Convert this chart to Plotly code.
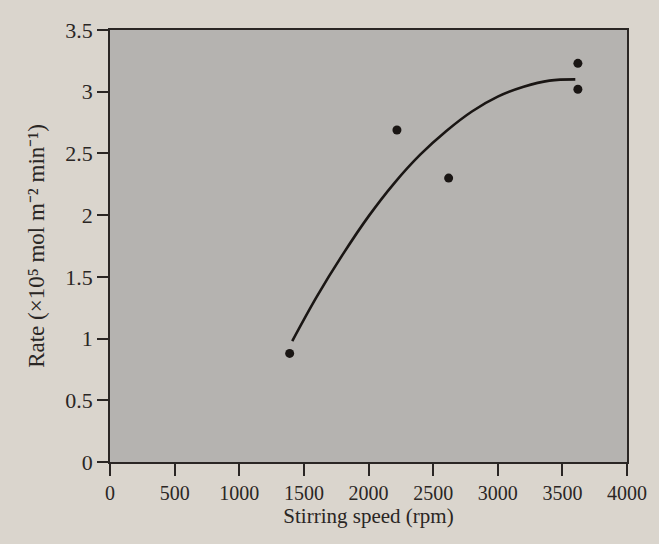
import plotly.graph_objects as go

# Measured data points
speed_rpm = [1390, 2220, 2620, 3620, 3620]
rate = [0.88, 2.69, 2.30, 3.23, 3.02]

# Fitted curve as drawn in the figure
curve_speed = [1410, 1600, 1800, 2000, 2200, 2400, 2600, 2800, 3000, 3200, 3400, 3600]
curve_rate = [0.98, 1.34, 1.68, 1.99, 2.26, 2.49, 2.68, 2.84, 2.96, 3.04, 3.09, 3.10]

x_ticks = [0, 500, 1000, 1500, 2000, 2500, 3000, 3500, 4000]
y_ticks = [0, 0.5, 1, 1.5, 2, 2.5, 3, 3.5]

font_family = "Liberation Serif, Times New Roman, serif"

fig = go.Figure()
fig.add_trace(go.Scatter(
    x=curve_speed, y=curve_rate, mode="lines",
    line=dict(color="#1a1614", width=2.6, shape="spline", smoothing=1.0),
    showlegend=False, hoverinfo="skip",
))
fig.add_trace(go.Scatter(
    x=speed_rpm, y=rate, mode="markers",
    marker=dict(color="#1a1614", size=9),
    showlegend=False,
))

fig.update_layout(
    width=659, height=544,
    margin=dict(l=110, r=21, t=30, b=82),
    paper_bgcolor="#dad5cd",
    plot_bgcolor="#b5b3b0",
    font=dict(family=font_family, size=20, color="#2a2624"),
    xaxis=dict(
        range=[0, 4000], tickvals=x_ticks,
        tickfont=dict(size=20),
        showgrid=False, zeroline=False,
        showline=True, linecolor="#2a2624", linewidth=1.6, mirror=True,
        ticks="outside", ticklen=12, tickwidth=1.5, tickcolor="#2a2624",
        title=dict(text="Stirring speed (rpm)", standoff=4,
                   font=dict(size=21)),
    ),
    yaxis=dict(
        range=[0, 3.5], tickvals=y_ticks,
        tickfont=dict(size=22),
        showgrid=False, zeroline=False,
        showline=True, linecolor="#2a2624", linewidth=1.6, mirror=True,
        ticks="outside", ticklen=11, tickwidth=1.5, tickcolor="#2a2624",
        title=dict(text="Rate (×10⁵ mol m⁻² min⁻¹)",
                   standoff=14, font=dict(size=23)),
    ),
)

fig.write_html("out.html")
